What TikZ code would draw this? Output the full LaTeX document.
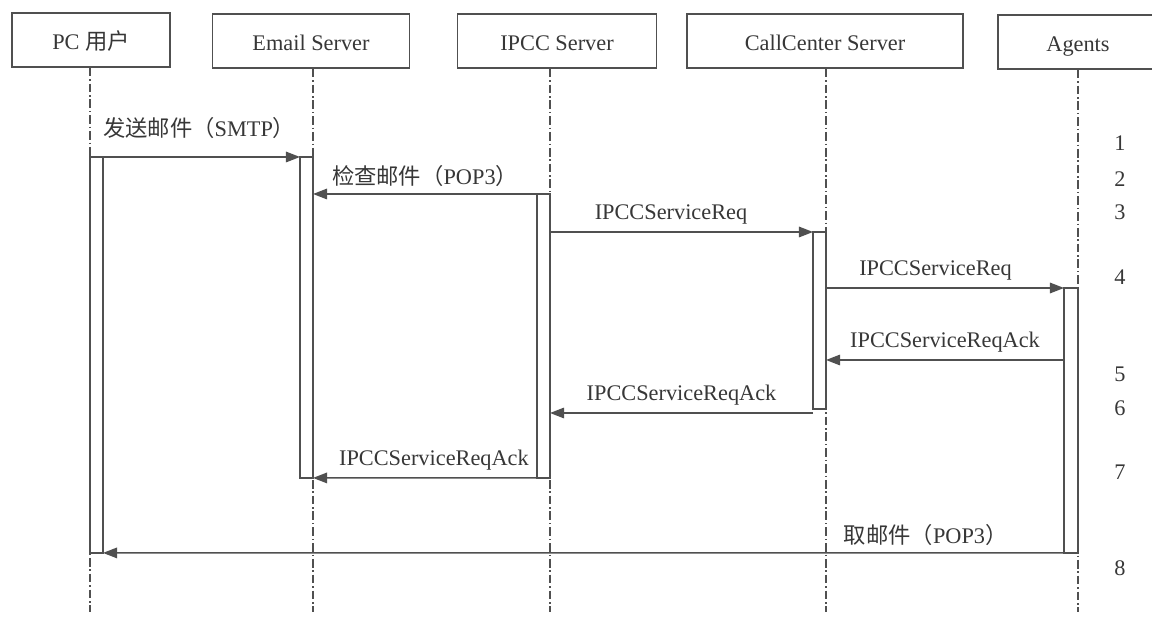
\documentclass[tikz,border=0pt]{standalone}
\usepackage{fontspec}
\setmainfont{Liberation Serif}
\newfontfamily\cjk{Noto Sans CJK SC}
\usetikzlibrary{arrows.meta}

\definecolor{linegray}{RGB}{80,80,80}
\definecolor{textgray}{RGB}{55,55,55}
\newcommand{\zh}[1]{{\cjk #1}}

\begin{document}
\begin{tikzpicture}[x=0.02cm,y=-0.02cm,
  every node/.style={font=\fontsize{12.7}{15}\selectfont, text=textgray},
  headbox/.style={draw=linegray, line width=0.8pt, minimum height=1.08cm, inner sep=0pt,
    text height=1.05em, text depth=0pt},
  actbar/.style={draw=linegray, fill=white, line width=0.8pt, minimum width=0.26cm,
    inner sep=0pt, outer sep=0pt, anchor=north west},
  lifeline/.style={draw=linegray, line width=0.7pt, dash pattern=on 5pt off 1.6pt on 0.8pt off 1.6pt},
  msg/.style={draw=linegray, line width=0.8pt, -{Triangle[length=8pt,width=6pt]}},
  msglabel/.style={above, inner sep=4pt}]

% ---------- Rahmen (Pixelmass 1152 x 617) ----------
\useasboundingbox (0,0) rectangle (1152,617);

% Hilfspunkte
\coordinate (lineend) at (0,612);
\coordinate (row5) at (0,360);
\coordinate (row6) at (0,413);

% ===================
% Kopfzeile: Teilnehmer
% ===================
\node[headbox, minimum width=3.16cm] (pc)    at (91,40)   {PC \zh{用户}};
\node[headbox, minimum width=3.94cm] (email) at (311,41)  {Email Server};
\node[headbox, minimum width=3.98cm] (ipcc)  at (557,41)  {IPCC Server};
\node[headbox, minimum width=5.52cm] (cc)    at (825,41)  {CallCenter Server};
\node[headbox, minimum width=3.2cm]  (ag)    at (1078,42) {Agents};

% ===================
% Aktivierungsbalken
% ===================
\node[actbar, minimum height=7.92cm] (barPC)    at (90,157)  {};
\node[actbar, minimum height=6.42cm] (barEmail) at (300,157) {};
\node[actbar, minimum height=5.68cm] (barIPCC)  at (537,194) {};
\node[actbar, minimum height=3.54cm] (barCC)    at (813,232) {};
\node[actbar, minimum height=5.30cm, minimum width=0.28cm] (barAg) at (1064,288) {};

% Lebenslinien (strichpunktiert)
\draw[lifeline] (barPC.west |- pc.south)       -- (barPC.west |- lineend);
\draw[lifeline] (barEmail.east |- email.south) -- (barEmail.east |- lineend);
\draw[lifeline] (barIPCC.east |- ipcc.south)   -- (barIPCC.east |- lineend);
\draw[lifeline] (barCC.east |- cc.south)       -- (barCC.east |- lineend);
\draw[lifeline] (barAg.east |- ag.south)       -- (barAg.east |- lineend);

% ===================
% Nachrichten
% ===================
\draw[msg] (barPC.north west) -- node[msglabel, pos=0.52, yshift=6pt] {\zh{发送邮件（}SMTP\zh{）}} (barEmail.north west);
\draw[msg] (barIPCC.north west) -- node[msglabel, pos=0.5] {\zh{检查邮件（}POP3\zh{）}} (barEmail.east |- barIPCC.north);
\draw[msg] (barIPCC.east |- barCC.north) -- node[msglabel, pos=0.46] {IPCCServiceReq} (barCC.north west);
\draw[msg] (barCC.east |- barAg.north) -- node[msglabel, pos=0.46] {IPCCServiceReq} (barAg.north west);
\draw[msg] (barAg.west |- row5) -- node[msglabel, pos=0.5] {IPCCServiceReqAck} (barCC.east |- row5);
\draw[msg] (barCC.west |- row6) -- node[msglabel, pos=0.5] {IPCCServiceReqAck} (barIPCC.east |- row6);
\draw[msg] (barIPCC.south west) -- node[msglabel, pos=0.46] {IPCCServiceReqAck} (barEmail.south east);
\draw[msg] (barAg.south west) -- node[msglabel, pos=0.144] {\zh{取邮件（}POP3\zh{）}} (barPC.south east);

% Schrittnummern rechts
\foreach \n/\y in {1/143,2/179,3/212,4/277,5/374,6/408,7/472,8/568}
  \node (num\n) at (1120,\y) {\n};

\end{tikzpicture}
\end{document}
